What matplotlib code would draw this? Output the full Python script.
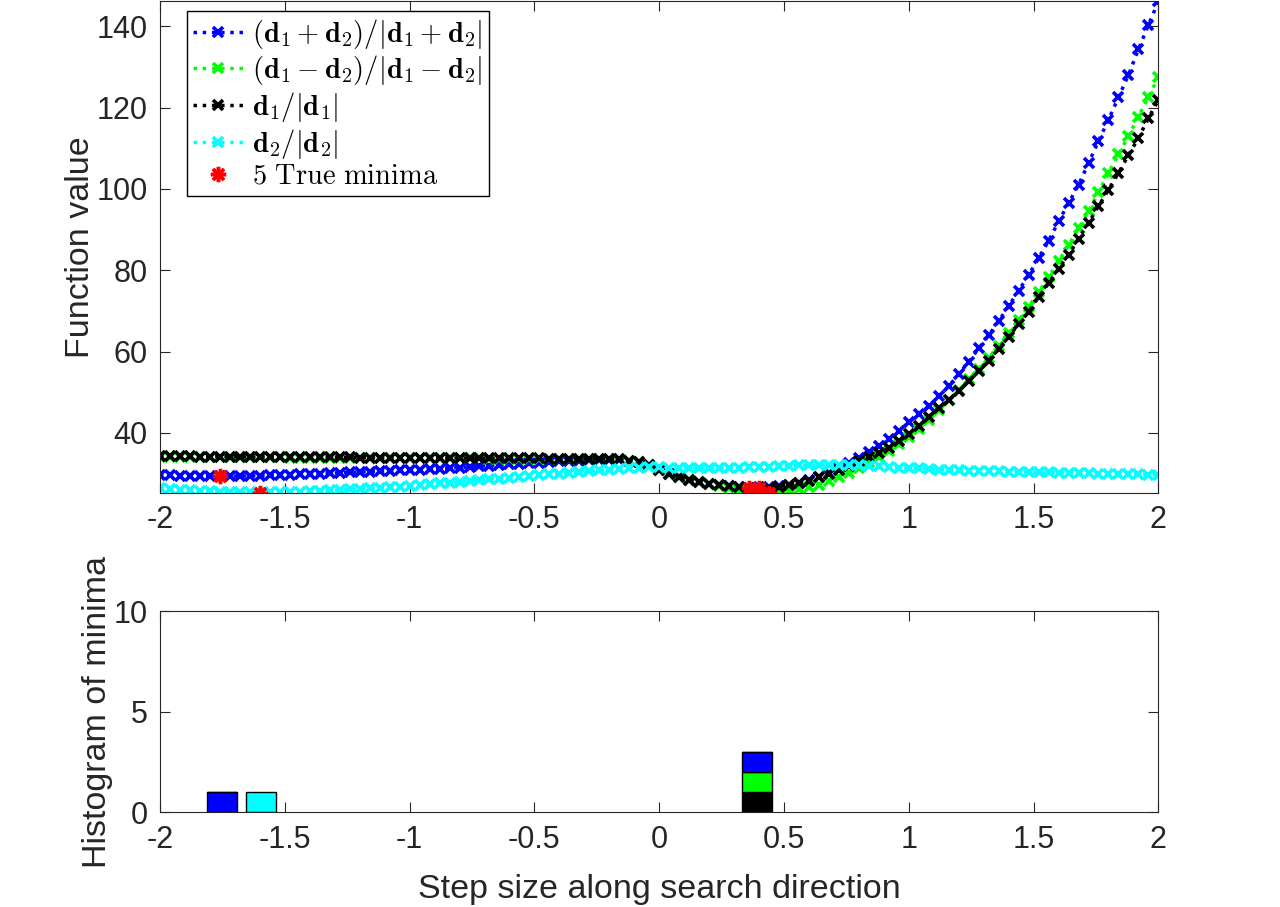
import matplotlib
matplotlib.use('Agg')
import matplotlib.pyplot as plt
import numpy as np

plt.rcParams['font.family'] = ['Liberation Sans', 'DejaVu Sans']
plt.rcParams['mathtext.fontset'] = 'cm'

# step sizes, -2:0.04:2
step = np.linspace(-2, 2, 101)

# (d1+d2)/|d1+d2|
f_plus = [29.7, 29.6, 29.5, 29.45, 29.4, 29.35, 29.3, 29.35, 29.4, 29.45,
          29.5, 29.55, 29.6, 29.7, 29.8, 29.9, 30.0, 30.1, 30.2, 30.3,
          30.4, 30.5, 30.6, 30.7, 30.8, 30.9, 31.0, 31.1, 31.25, 31.4,
          31.5, 31.65, 31.8, 31.95, 32.1, 32.25, 32.4, 32.55, 32.7, 32.85,
          33.0, 33.1, 33.2, 33.3, 33.35, 33.4, 33.4, 33.2, 32.8, 32.0,
          31.0, 30.0, 29.2, 28.5, 28.0, 27.5, 27.2, 26.9, 26.7, 26.5,
          26.6, 26.7, 26.9, 27.3, 27.8, 28.4, 29.2, 30.2, 31.3, 32.5,
          33.9, 35.3, 36.8, 38.5, 40.5, 42.6, 44.6, 46.6, 49.0, 51.5,
          54.5, 57.5, 60.8, 64.0, 67.5, 71.2, 75.0, 78.8, 83.0, 87.2,
          92.0, 96.5, 101.0, 106.3, 111.8, 117.0, 122.5, 128.0, 134.3, 140.3,
          146.1]

# (d1-d2)/|d1-d2|
f_minus = [34.2, 34.2, 34.15, 34.15, 34.1, 34.1, 34.1, 34.05, 34.05, 34.0,
           34.0, 34.0, 34.0, 33.95, 33.95, 33.95, 33.9, 33.9, 33.9, 33.9,
           33.85, 33.85, 33.85, 33.85, 33.8, 33.8, 33.8, 33.8, 33.8, 33.75,
           33.75, 33.75, 33.75, 33.7, 33.7, 33.7, 33.7, 33.65, 33.65, 33.6,
           33.6, 33.6, 33.55, 33.5, 33.5, 33.5, 33.5, 33.2, 32.8, 32.0,
           31.0, 30.0, 29.2, 28.5, 27.9, 27.4, 26.9, 26.4, 26.0, 25.6,
           25.35, 25.25, 25.35, 25.7, 26.1, 26.7, 27.3, 28.1, 29.1, 30.2,
           31.5, 32.8, 34.0, 35.5, 37.2, 39.0, 41.0, 43.3, 45.6, 48.0,
           50.5, 53.2, 55.8, 58.5, 61.5, 64.6, 67.7, 71.0, 74.6, 78.3,
           82.2, 86.2, 90.3, 94.5, 99.2, 103.9, 108.5, 113.0, 117.8, 122.6,
           127.5]

# d1/|d1|
f_d1 = [34.3, 34.3, 34.25, 34.25, 34.2, 34.2, 34.2, 34.15, 34.15, 34.1,
        34.1, 34.1, 34.1, 34.05, 34.05, 34.05, 34.0, 34.0, 34.0, 34.0,
        33.95, 33.95, 33.95, 33.95, 33.9, 33.9, 33.9, 33.9, 33.9, 33.85,
        33.85, 33.85, 33.85, 33.8, 33.8, 33.8, 33.8, 33.75, 33.75, 33.7,
        33.7, 33.7, 33.65, 33.6, 33.6, 33.6, 33.5, 33.2, 32.8, 32.0,
        31.0, 30.0, 29.2, 28.5, 28.0, 27.5, 27.2, 26.9, 26.7, 26.5,
        26.4, 26.5, 26.8, 27.2, 27.7, 28.3, 29.1, 30.0, 30.9, 31.9,
        33.0, 34.1, 35.0, 36.4, 38.0, 39.7, 41.7, 44.0, 46.2, 48.0,
        50.3, 52.8, 55.3, 57.8, 60.7, 63.6, 66.8, 69.8, 73.4, 76.8,
        80.4, 83.8, 87.8, 91.6, 95.8, 99.8, 103.9, 108.3, 112.5, 117.4,
        121.8]

# d2/|d2|
f_d2 = [26.4, 26.2, 26.0, 25.9, 25.8, 25.7, 25.6, 25.5, 25.45, 25.4,
        25.35, 25.4, 25.45, 25.5, 25.6, 25.7, 25.8, 25.9, 26.0, 26.1,
        26.2, 26.35, 26.5, 26.65, 26.8, 27.0, 27.2, 27.4, 27.6, 27.8,
        28.0, 28.2, 28.4, 28.6, 28.8, 29.0, 29.2, 29.4, 29.6, 29.8,
        30.0, 30.2, 30.4, 30.6, 30.8, 31.0, 31.2, 31.4, 31.5, 31.6,
        31.6, 31.5, 31.5, 31.4, 31.4, 31.4, 31.4, 31.5, 31.5, 31.6,
        31.6, 31.7, 31.8, 31.9, 32.0, 32.0, 32.1, 32.1, 32.1, 32.1,
        32.0, 31.9, 31.8, 31.6, 31.5, 31.4, 31.3, 31.1, 31.0, 30.9,
        30.8, 30.75, 30.7, 30.65, 30.6, 30.5, 30.45, 30.4, 30.35, 30.3,
        30.2, 30.15, 30.1, 30.05, 30.0, 29.95, 29.9, 29.85, 29.8, 29.75,
        29.7]

# true minima
min_x = [-1.76, -1.60, 0.36, 0.40, 0.44]
min_y = [29.3, 25.35, 26.5, 26.4, 25.25]

# histogram of minima (bin centres, counts per direction)
bin_centres = [-1.75, -1.595, 0.393]
cnt_d1 = [0, 0, 1]
cnt_minus = [0, 0, 1]
cnt_plus = [1, 0, 1]
cnt_d2 = [0, 1, 0]

labels = [r'$(\mathbf{d}_1+\mathbf{d}_2)/|\mathbf{d}_1+\mathbf{d}_2|$',
          r'$(\mathbf{d}_1-\mathbf{d}_2)/|\mathbf{d}_1-\mathbf{d}_2|$',
          r'$\mathbf{d}_1/|\mathbf{d}_1|$',
          r'$\mathbf{d}_2/|\mathbf{d}_2|$']
colors = ['#0000ff', '#00ff00', '#000000', '#00ffff']
ink = '#262626'
xtl = ['-2', '-1.5', '-1', '-0.5', '0', '0.5', '1', '1.5', '2']

fig = plt.figure(figsize=(12.8, 9.07), dpi=100)
ax1 = fig.add_axes([0.125, 0.4565, 0.78, 0.5424])
ax2 = fig.add_axes([0.125, 0.1047, 0.78, 0.2216])

for vals, c, lab in zip([f_plus, f_minus, f_d1, f_d2], colors, labels):
    ax1.plot(step, vals, linestyle=':', linewidth=2.5, color=c, marker='x',
             markersize=6.5, markeredgewidth=2.6, label=lab)
ax1.plot(min_x, min_y, linestyle='none', marker=(8, 2, 0), markersize=11,
         markeredgewidth=2.5, color='#ff0000', label=r'$\mathrm{5\ True\ minima}$')

ax1.set_xlim(-2, 2)
ax1.set_ylim(25.25, 146.2)
ax1.set_yticks([40, 60, 80, 100, 120, 140])
ax1.set_xticks(np.arange(-2, 2.01, 0.5))
ax1.set_xticklabels(xtl)
ax1.set_ylabel('Function value', fontsize=24.5, color=ink, labelpad=0)

leg = ax1.legend(loc='upper left', bbox_to_anchor=(0.027, 0.98), borderaxespad=0,
                 fontsize=20.5, fancybox=False, framealpha=1, edgecolor='black',
                 handlelength=1.8, handletextpad=0.3, labelspacing=0.1,
                 borderpad=0.2, numpoints=1)
leg.get_frame().set_linewidth(1.0)

# stacked bars
bottom = np.zeros(len(bin_centres))
for cnt, c in zip([cnt_d1, cnt_minus, cnt_plus, cnt_d2],
                  ['#000000', '#00ff00', '#0000ff', '#00ffff']):
    ax2.bar(bin_centres, cnt, width=0.12, bottom=bottom, color=c,
            edgecolor='black', linewidth=1)
    bottom = bottom + np.array(cnt)

ax2.set_xlim(-2, 2)
ax2.set_ylim(0, 10)
ax2.set_yticks([0, 5, 10])
ax2.set_xticks(np.arange(-2, 2.01, 0.5))
ax2.set_xticklabels(xtl)
ax2.set_ylabel('Histogram of minima', fontsize=24.5, color=ink, labelpad=0)
ax2.set_xlabel('Step size along search direction', fontsize=24.5, color=ink,
               labelpad=14)

for ax in (ax1, ax2):
    ax.tick_params(direction='in', top=True, right=True, length=7, width=0.8,
                   labelsize=22, colors=ink, pad=9)
    for sp in ax.spines.values():
        sp.set_color(ink)
        sp.set_linewidth(0.8)

plt.savefig('out.png', dpi=100)
